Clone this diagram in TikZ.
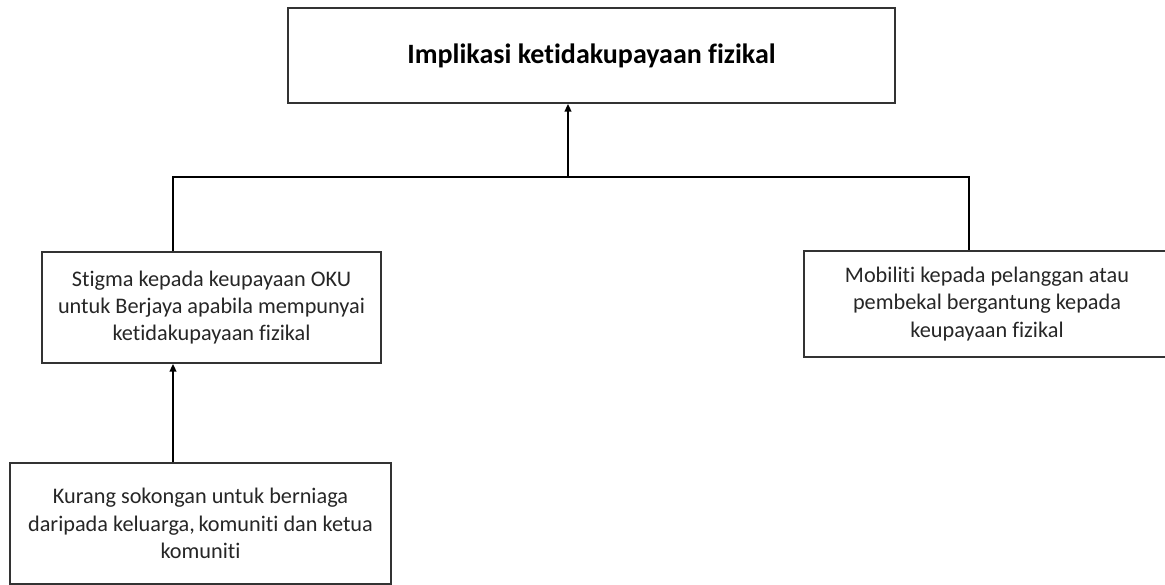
\documentclass[tikz,border=0pt]{standalone}
\usepackage{fontspec}
\setmainfont{Carlito}[Ligatures=NoCommon]
\usetikzlibrary{arrows.meta}
\begin{document}
\begin{tikzpicture}[x=0.75pt,y=-0.75pt,
  box/.style={draw=black!80,line width=1.1pt,align=center,inner sep=0pt,
    font=\fontsize{16.7}{20.4}\selectfont,text=black!85},
  conn/.style={line width=1.6pt,black},
  arr/.style={conn,-{Triangle[length=6pt,width=5pt]}}]
\useasboundingbox (0,0) rectangle (1165,585);
\clip (0,0) rectangle (1165,585);
\node[box,minimum width=455.25pt,minimum height=71.25pt,font=\fontsize{21}{25}\selectfont\bfseries,text=black] (top) at (591.5,55.5) {Implikasi ketidakupayaan fizikal};
\node[box,minimum width=254.25pt,minimum height=83.25pt] (left) at (211.5,307.5) {Stigma kepada keupayaan OKU\\untuk Berjaya apabila mempunyai\\ketidakupayaan fizikal};
\node[box,minimum width=274.5pt,minimum height=79.5pt] (right) at (987,304) {Mobiliti kepada pelanggan atau\\pembekal bergantung kepada\\keupayaan fizikal};
\node[box,minimum width=285.75pt,minimum height=90.75pt] (bot) at (200.5,523.5) {Kurang sokongan untuk berniaga\\daripada keluarga,\,komuniti dan ketua\\komuniti};
\coordinate (hl) at (173,177);
\coordinate (hr) at (969,177);
\coordinate (j) at (568,177);
\draw[conn] (left.north -| hl) -- (hl) -- (hr) -- (right.north -| hr);
\draw[arr] (j) -- (j |- top.south);
\draw[arr] (bot.north -| hl) -- (left.south -| hl);
\end{tikzpicture}
\end{document}
